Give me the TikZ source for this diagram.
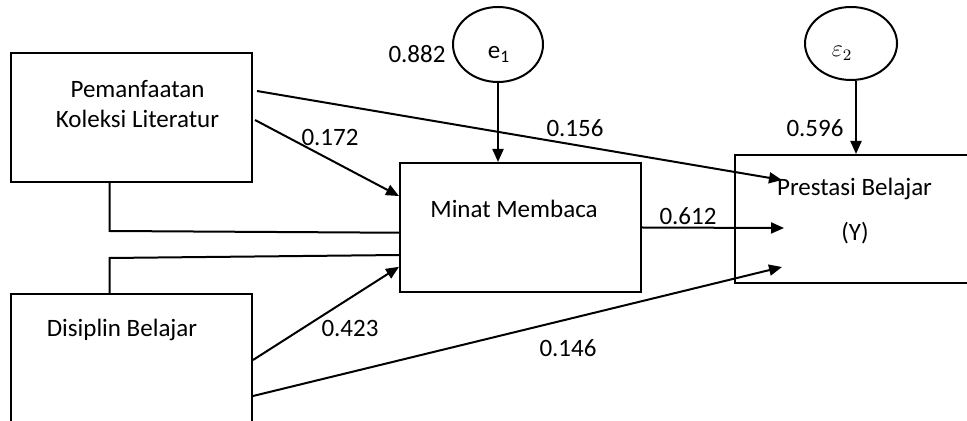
\documentclass[tikz,border=0pt]{standalone}
\usepackage{fontspec}
\setmainfont{Carlito}
\usetikzlibrary{arrows.meta,shapes.geometric,calc}

\begin{document}
\begin{tikzpicture}[x=0.5pt,y=-0.5pt,
  box/.style={draw,line width=1pt,rectangle,inner sep=0pt},
  err/.style={draw,line width=1pt,ellipse,inner sep=0pt},
  txt/.style={inner sep=0pt,anchor=base,font=\fontsize{12.5}{15}\selectfont},
  arr/.style={line width=1pt,-{Triangle[length=6.5pt,width=5.5pt]}},
  link/.style={line width=1pt}]
\useasboundingbox (0,0) rectangle (967,421);
\clip (0,0) rectangle (967,421);

\node[box,minimum width=120.5pt,minimum height=64.5pt] (pkl) at (131.5,117.5) {};
\node[box,minimum width=120.5pt,minimum height=75pt] (dsp) at (131.5,369) {};
\node[box,minimum width=120.5pt,minimum height=64.5pt] (mnt) at (520.5,227.5) {};
\node[box,minimum width=130pt,minimum height=64pt] (pb) at (865,219) {};
\node[err,minimum width=45pt,minimum height=37.5pt] (e1) at (498,44.5) {};
\node[err,minimum width=46pt,minimum height=36.5pt] (e2) at (851,43.5) {};

\node[txt] (t1) at (137.5,98) {Pemanfaatan};
\node[txt] (t2) at (137.5,128) {Koleksi Literatur};
\node[txt] (t3) at (122,337) {Disiplin Belajar};
\node[txt] (t4) at (514,218) {Minat Membaca};
\node[txt] (t5) at (854.5,196) {Prestasi Belajar};
\node[txt] (t6) at (855,241) {(Y)};
\node[txt] (t7) at (499,59) {e\textsubscript{1}};
\node[txt,font=\fontsize{12}{14}\selectfont] (t8) at (842,57) {$\varepsilon_{2}$};

\coordinate (in1) at (782,180);
\coordinate (in2) at (784,228);
\coordinate (in3) at (782,267);

\draw[arr] (e1.south) -- (e1.south |- mnt.north);
\draw[arr] ([xshift=2.5pt]e2.south) -- ([xshift=2.5pt]e2.south |- pb.north);
\draw[arr] ($(pkl.north east)+(4,39)$) -- (in1);
\draw[arr] ($(pkl.north east)+(2,68)$) -- ($(mnt.north west)!0.26!(mnt.south west)$);
\draw[link] ($(pkl.south west)!0.41!(pkl.south east)$) -- ++(0,48) -- ($(mnt.north west)!0.54!(mnt.south west)$);
\draw[link] ($(dsp.north west)!0.41!(dsp.north east)$) -- ++(0,-35) -- ($(mnt.north west)!0.71!(mnt.south west)$);
\draw[arr] ($(dsp.north east)+(0,67)$) -- ($(mnt.north west)!0.8!(mnt.south west)$);
\draw[arr] ($(dsp.north east)+(0,103)$) -- (in3);
\draw[arr] (mnt.east) -- (in2);

\foreach \i/\v/\x/\y in {1/0.882/417/63, 2/0.172/330/146, 3/0.156/575/137,
  4/0.596/815/137, 5/0.612/688/225, 6/0.423/350/337, 7/0.146/568/357}
  \node[txt] (w\i) at (\x,\y) {\v};
\end{tikzpicture}
\end{document}
